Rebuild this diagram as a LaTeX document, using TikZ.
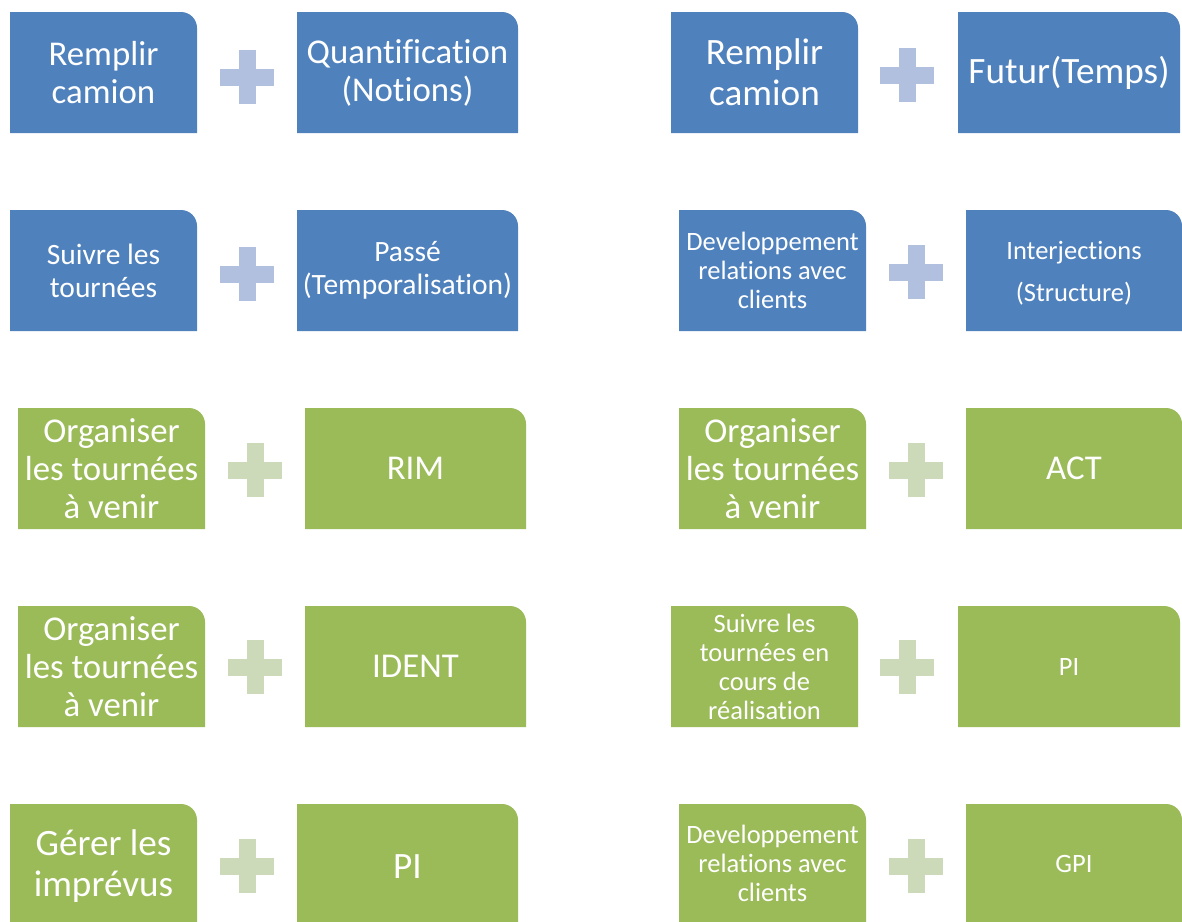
\documentclass[tikz,border=0pt]{standalone}
\usepackage{fontspec}
\setmainfont[Ligatures=NoCommon]{Carlito}
\definecolor{bblue}{HTML}{4F81BD}
\definecolor{bgreen}{HTML}{9BBB59}
\definecolor{pblue}{HTML}{B0C0DE}
\definecolor{pgreen}{HTML}{CDDAB9}
\tikzset{lbl/.style={text=white, align=center, inner sep=0pt}}
\newcommand\mybox[8]{%
  \fill[#6] (#2,#5) -- (#2,#3) [rounded corners=16pt] -- (#4,#3) [sharp corners] -- (#4,#5) -- cycle;
  \node[lbl, font=#7] (#1) at ({(#2+#4)/2},{(#3+#5)/2}) {#8};
}
\newcommand\myplus[4]{%
  \coordinate (#1) at (#2,#3);
  \fill[#4] ([shift={(-27,-8.5)}]#1) rectangle ([shift={(27,8.5)}]#1);
  \fill[#4] ([shift={(-8.5,-27)}]#1) rectangle ([shift={(8.5,27)}]#1);
}
\newcommand\fA{\fontsize{34.8}{38}\selectfont}
\newcommand\fB{\fontsize{37.2}{41}\selectfont}
\newcommand\fC{\fontsize{29.5}{33}\selectfont}
\newcommand\fD{\fontsize{26.5}{29}\selectfont}
\newcommand\fE{\fontsize{26.5}{42}\selectfont}
\begin{document}
\begin{tikzpicture}[x=1pt,y=-1pt]
\useasboundingbox (0,0) rectangle (1182,921);
% row 1
\mybox{a1}{10}{12}{197}{133}{bblue}{\fA}{Remplir\\camion}
\mybox{b1}{297}{12}{518}{133}{bblue}{\fA}{Quantification\\(Notions)}
\myplus{p1}{247}{77}{pblue}
\mybox{c1}{671}{12}{858}{133}{bblue}{\fB}{Remplir\\camion}
\mybox{d1}{958}{12}{1180}{133}{bblue}{\fB}{Futur(Temps)}
\myplus{q1}{907}{75}{pblue}
% row 2
\mybox{a2}{10}{210}{197}{331}{bblue}{\fC}{Suivre les\\tournées}
\mybox{b2}{297}{210}{518}{331}{bblue}{\fC}{Passé\\(Temporalisation)}
\myplus{p2}{247}{274}{pblue}
\mybox{c2}{679}{210}{866}{331}{bblue}{\fD}{Developpement\\relations avec\\clients}
\fill[bblue] (966,331) -- (966,210) [rounded corners=16pt] -- (1182,210) [sharp corners] -- (1182,331) -- cycle;
\node[lbl, font=\fE] (d2) at (1074,273.5) {Interjections\\(Structure)};
\myplus{q2}{916}{272}{pblue}
% row 3
\mybox{a3}{18}{408}{205}{529}{bgreen}{\fA}{Organiser\\les tournées\\à venir}
\mybox{b3}{305}{408}{526}{529}{bgreen}{\fA}{RIM}
\myplus{p3}{255}{470}{pgreen}
\mybox{c3}{679}{408}{866}{529}{bgreen}{\fA}{Organiser\\les tournées\\à venir}
\mybox{d3}{966}{408}{1182}{529}{bgreen}{\fA}{ACT}
\myplus{q3}{916}{470}{pgreen}
% row 4
\mybox{a4}{18}{606}{205}{727}{bgreen}{\fA}{Organiser\\les tournées\\à venir}
\mybox{b4}{305}{606}{526}{727}{bgreen}{\fA}{IDENT}
\myplus{p4}{255}{667}{pgreen}
\mybox{c4}{671}{606}{858}{727}{bgreen}{\fD}{Suivre les\\tournées en\\cours de\\réalisation}
\mybox{d4}{958}{606}{1180}{727}{bgreen}{\fD}{PI}
\myplus{q4}{907}{667}{pgreen}
% row 5
\mybox{a5}{10}{804}{197}{929}{bgreen}{\fB}{Gérer les\\imprévus}
\mybox{b5}{297}{804}{518}{929}{bgreen}{\fB}{PI}
\myplus{p5}{247}{866}{pgreen}
\mybox{c5}{679}{804}{866}{923}{bgreen}{\fD}{Developpement\\relations avec\\clients}
\mybox{d5}{966}{804}{1182}{923}{bgreen}{\fD}{GPI}
\myplus{q5}{916}{866}{pgreen}
\end{tikzpicture}
\end{document}
